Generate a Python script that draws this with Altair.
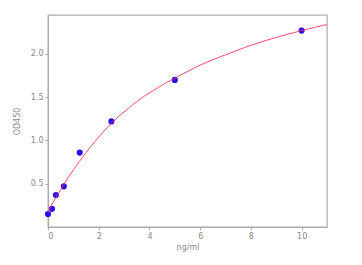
import altair as alt
import pandas as pd

conc = [0.0, 0.156, 0.3125, 0.625, 1.25, 2.5, 5.0, 10.0]
od = [0.15, 0.21, 0.37, 0.47, 0.86, 1.22, 1.70, 2.27]

curve_x = [0, 0.25, 0.5, 0.75, 1, 1.5, 2, 2.5, 3, 3.5, 4, 4.5, 5, 6, 7, 8, 9, 10, 11]
curve_y = [0.17, 0.31, 0.43, 0.55, 0.66, 0.86, 1.04, 1.20, 1.33, 1.45, 1.55, 1.64,
           1.72, 1.87, 1.99, 2.10, 2.19, 2.27, 2.34]

x_ticks = [0, 2, 4, 6, 8, 10]
y_ticks = [0.5, 1.0, 1.5, 2.0]

pts = pd.DataFrame({"x": conc, "y": od})
crv = pd.DataFrame({"x": curve_x, "y": curve_y})

xs = alt.Scale(domain=[0, 11], nice=False, zero=False)
ys = alt.Scale(domain=[0, 2.45], nice=False, zero=False)

xax = alt.Axis(values=x_ticks, title="ng/ml", grid=False, labelFontSize=8, titleFontSize=8,
               labelColor="#888", titleColor="#888", domainColor="#aaa", tickColor="#aaa",
               tickSize=3, titleFontWeight="normal", labelFont="DejaVu Sans", titleFont="DejaVu Sans",
               titlePadding=3)
yax = alt.Axis(values=y_ticks, title="OD450", grid=False, labelFontSize=8, titleFontSize=8,
               labelColor="#888", titleColor="#888", domainColor="#aaa", tickColor="#aaa",
               tickSize=3, titleFontWeight="normal", labelFont="DejaVu Sans", titleFont="DejaVu Sans",
               format=".1f", titlePadding=9)

frame = alt.Chart(pd.DataFrame({"a": [0]})).mark_rect(fill=None, stroke="#aaa", strokeWidth=1).encode(
    x=alt.value(0), x2=alt.value(279), y=alt.value(0), y2=alt.value(212)
)
points = alt.Chart(pts).mark_circle(size=38, color="#2a10ee", opacity=1).encode(
    x=alt.X("x:Q", scale=xs, axis=xax),
    y=alt.Y("y:Q", scale=ys, axis=yax),
)
line = alt.Chart(crv).mark_line(color="#ff2a5a", strokeWidth=1, interpolate="natural", opacity=0.85).encode(
    x=alt.X("x:Q", scale=xs),
    y=alt.Y("y:Q", scale=ys),
)

chart = alt.layer(frame, points, line).properties(
    width=279, height=212,
    autosize=alt.AutoSizeParams(type="none"),
    padding={"left": 48, "top": 15, "right": 35, "bottom": 38},
).configure(background="white")

chart.save("out.html", embed_options={"renderer": "svg", "actions": False})
